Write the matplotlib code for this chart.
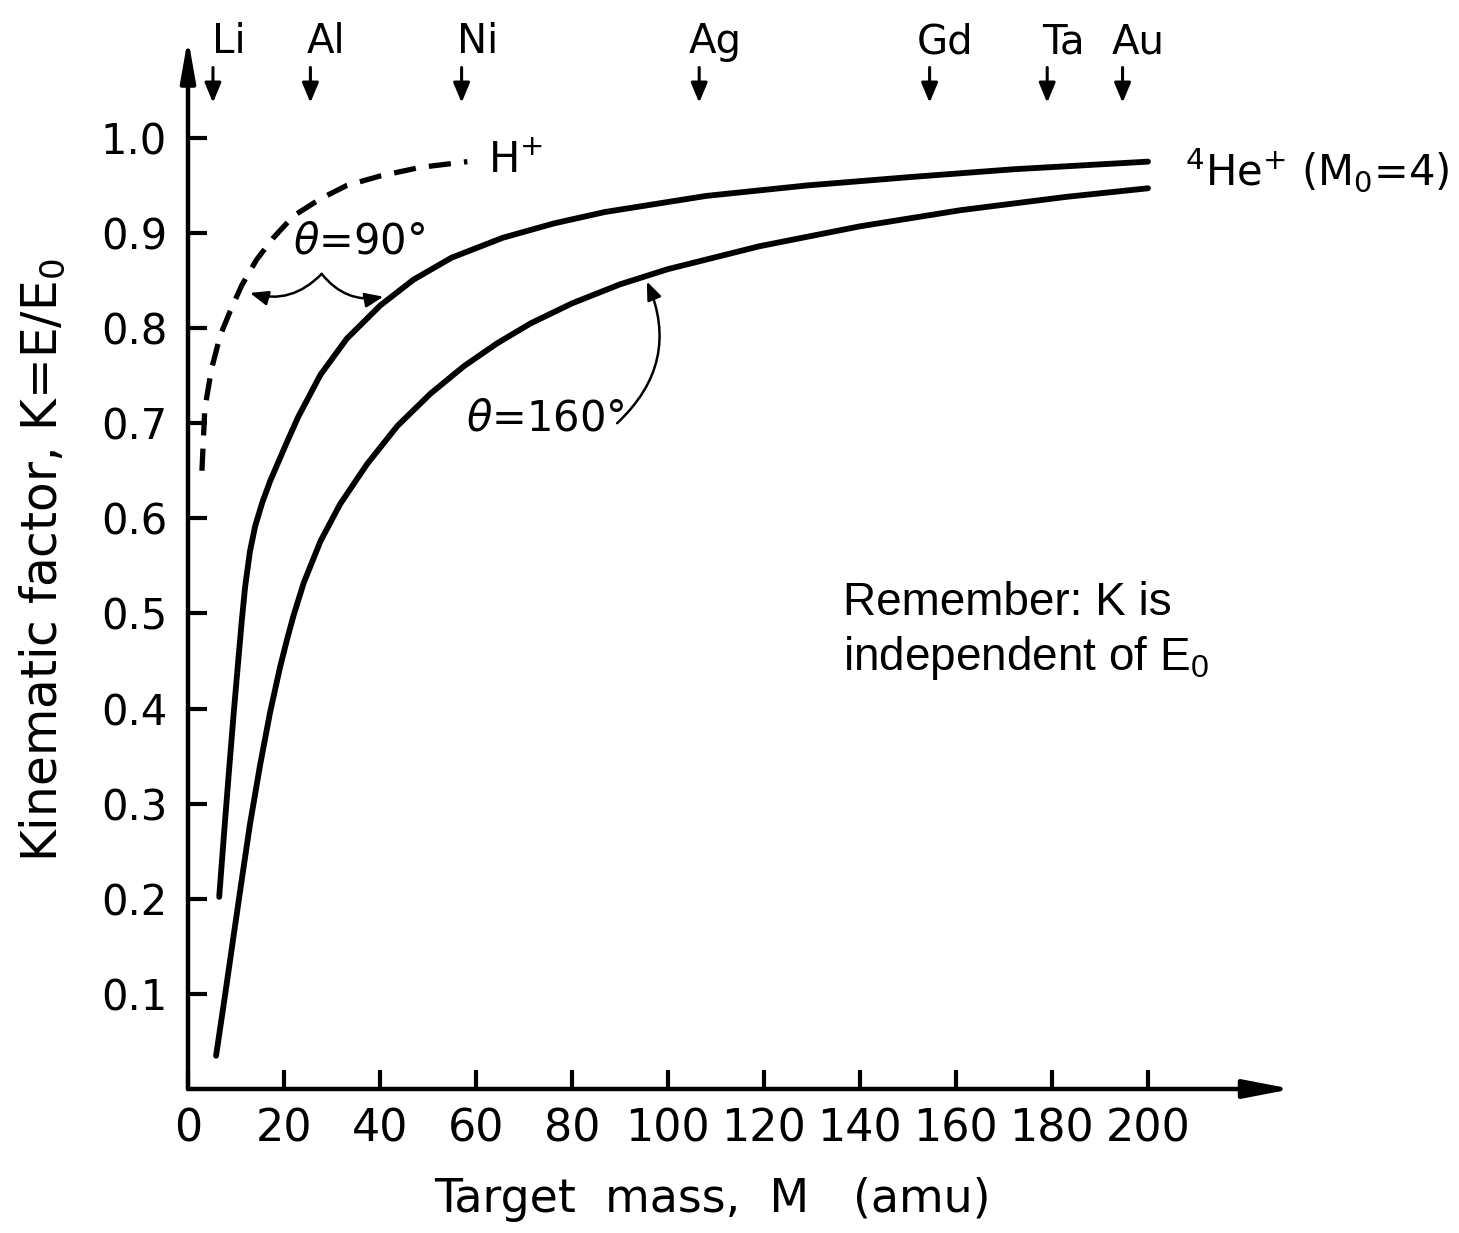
import matplotlib
matplotlib.use("Agg")
import matplotlib.pyplot as plt

# ---------------- data ----------------
# H+ beam, theta = 90 deg (dashed)
mass_H90 = [2.9, 3.5, 4.9, 6.7, 8.8, 11.2, 14.3, 17.8, 22.0, 27.6, 33.1, 40.1, 48.4, 58.2]
K_H90 = [0.650, 0.715, 0.757, 0.792, 0.818, 0.845, 0.872, 0.895, 0.918, 0.936,
         0.950, 0.960, 0.969, 0.975]

# 4He+ beam, theta = 90 deg
mass_He90 = [6.5, 7.5, 8.5, 9.5, 10.5, 11.2, 11.9, 12.9, 14.0, 15.5, 17.1, 20.6,
             23.0, 27.6, 33.1, 40.1, 47.0, 54.9, 65.6, 76.2, 86.8, 108, 129, 151,
             172, 200]
K_He90 = [0.202, 0.268, 0.332, 0.394, 0.452, 0.492, 0.528, 0.565, 0.592, 0.617,
          0.639, 0.680, 0.707, 0.751, 0.789, 0.824, 0.851, 0.874, 0.895, 0.910,
          0.922, 0.939, 0.950, 0.959, 0.967, 0.975]

# 4He+ beam, theta = 160 deg
mass_He160 = [5.85, 7.7, 9.5, 11.2, 12.9, 15.0, 17.1, 19.2, 20.6, 22.0, 24.1,
              27.6, 31.7, 37.3, 43.6, 50.5, 57.5, 64.4, 71.4, 80, 90, 100, 119,
              140, 161, 183, 200]
K_He160 = [0.035, 0.098, 0.161, 0.220, 0.278, 0.340, 0.396, 0.444, 0.472, 0.498,
           0.532, 0.576, 0.615, 0.657, 0.697, 0.731, 0.760, 0.784, 0.805, 0.826,
           0.846, 0.862, 0.886, 0.907, 0.924, 0.938, 0.947]

# element markers along the top
elements = ["Li", "Al", "Ni", "Ag", "Gd", "Ta", "Au"]
element_mass = [5.2, 25.5, 57.0, 106.5, 154.5, 179.0, 194.7]

x_ticks = [0, 20, 40, 60, 80, 100, 120, 140, 160, 180, 200]
x_tick_labels = ["0", "20", "40", "60", "80", "100", "120", "140", "160", "180", "200"]
y_ticks = [0.1, 0.2, 0.3, 0.4, 0.5, 0.6, 0.7, 0.8, 0.9, 1.0]
y_tick_labels = ["0.1", "0.2", "0.3", "0.4", "0.5", "0.6", "0.7", "0.8", "0.9", "1.0"]

# ---------------- figure ----------------
plt.rcParams["font.family"] = ["DejaVu Sans"]
W, H = 1459, 1233
fig = plt.figure(figsize=(W / 100, H / 100), dpi=100)
ax = fig.add_axes([188 / W, 1 - 1089 / H, 1104 / W, (1089 - 38) / H])
ax.set_xlim(0, 230)
ax.set_ylim(0, 1.105)
for s in ax.spines.values():
    s.set_visible(False)

# axes drawn as arrows
ax.annotate("", xy=(0, 1), xytext=(0, 0), xycoords="axes fraction",
            annotation_clip=False,
            arrowprops=dict(arrowstyle="-|>,head_length=1.25,head_width=0.22",
                            lw=3.2, color="black", shrinkA=0, shrinkB=0,
                            mutation_scale=20))
ax.annotate("", xy=(1, 0), xytext=(0, 0), xycoords="axes fraction",
            annotation_clip=False,
            arrowprops=dict(arrowstyle="-|>,head_length=1.45,head_width=0.28",
                            lw=3.2, color="black", shrinkA=0, shrinkB=0,
                            mutation_scale=20))

ax.set_xticks(x_ticks)
ax.set_xticklabels(x_tick_labels, fontsize=32)
ax.set_yticks(y_ticks)
ax.set_yticklabels(y_tick_labels, fontsize=30)
ax.tick_params(axis="both", direction="in", length=14, width=3, color="black")
ax.tick_params(axis="x", pad=13)
ax.tick_params(axis="y", pad=15)

# curves
ax.plot(mass_He90, K_He90, color="black", lw=4.2, solid_capstyle="round",
        solid_joinstyle="round")
ax.plot(mass_He160, K_He160, color="black", lw=4.2, solid_capstyle="round",
        solid_joinstyle="round")
ax.plot(mass_H90, K_H90, color="black", lw=3.8, linestyle=(0, (4.2, 2.5)),
        dash_capstyle="butt", dash_joinstyle="round")

# labels of curves
ax.text(62.5, 0.964, "H$^{+}$", fontsize=30, ha="left", va="baseline")
ax.text(207.7, 0.950, "$^{\\mathregular{4}}$He$^{\\mathregular{+}}$ (M$_{\\mathregular{0}}$=4)",
        fontsize=30, ha="left", va="baseline")
ax.text(35.6, 0.891, "$\\theta$=90°", fontsize=30, ha="center", va="center")
ax.text(74.4, 0.705, "$\\theta$=160°", fontsize=30, ha="center", va="center")

# brace arrows for theta = 90
arr_kw = dict(arrowstyle="-|>,head_length=0.55,head_width=0.22", lw=1.8,
              color="black", shrinkA=0, shrinkB=0, mutation_scale=20)
ax.annotate("", xy=(12.9, 0.837), xytext=(27.85, 0.857),
            arrowprops=dict(connectionstyle="arc3,rad=-0.3", **arr_kw))
ax.annotate("", xy=(40.7, 0.833), xytext=(27.85, 0.857),
            arrowprops=dict(connectionstyle="arc3,rad=0.3", **arr_kw))
# arrow for theta = 160
ax.annotate("", xy=(95.6, 0.849), xytext=(89.4, 0.700),
            arrowprops=dict(connectionstyle="arc3,rad=0.35", **arr_kw))

# element arrows
for name, m in zip(elements, element_mass):
    ax.annotate("", xy=(m, 1.037), xytext=(m, 1.074), annotation_clip=False,
                arrowprops=dict(arrowstyle="-|>,head_length=0.6,head_width=0.25",
                                lw=2.2, color="black", shrinkA=0, shrinkB=0,
                                mutation_scale=20))
    ax.text(m + 3.3, 1.089, name, fontsize=29, ha="center", va="baseline")

# axis titles
fig.text(42 / W, 1 - 560 / H, "Kinematic factor, K=E/E$_{\\mathregular{0}}$",
         rotation=90, fontsize=35, ha="center", va="center")
fig.text(712 / W, 1 - 1212 / H, "Target  mass,  M   (amu)", fontsize=33,
         ha="center", va="baseline")

# note
fig.text(843 / W, 1 - 615 / H, "Remember: K is", fontsize=33,
         family=["Liberation Sans", "DejaVu Sans"], ha="left", va="baseline")
fig.text(843 / W, 1 - 670 / H, "independent of E$_{\\mathregular{0}}$", fontsize=33,
         family=["Liberation Sans", "DejaVu Sans"], ha="left", va="baseline")

fig.savefig("out.png", dpi=100, facecolor="white")
